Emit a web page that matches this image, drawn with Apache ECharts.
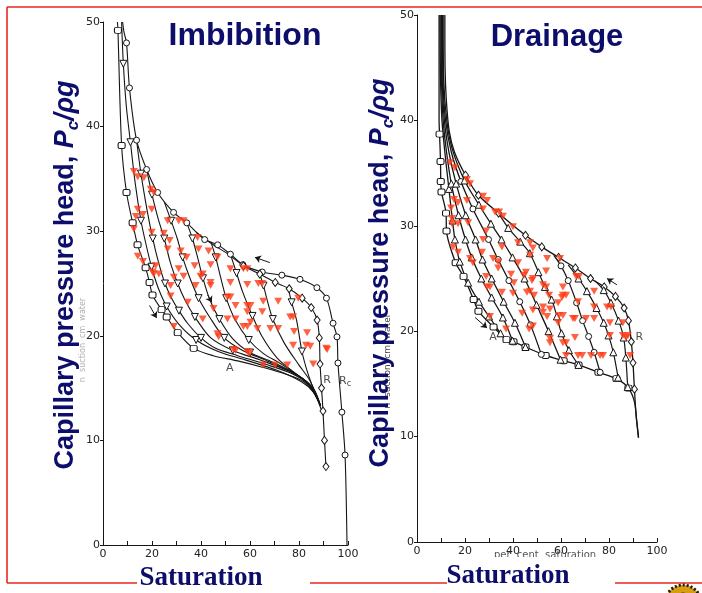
<!DOCTYPE html>
<html><head><meta charset="utf-8">
<script src="https://cdn.jsdelivr.net/npm/echarts@6/dist/echarts.min.js"></script>
<style>html,body{margin:0;padding:0;background:#fff}#c{width:702px;height:593px}</style>
</head><body><div id="c"></div>
<script>
// ---------- Imbibition (left) ----------
const imbTicksX = [0, 20, 40, 60, 80, 100];
const imbSquares = [[5.9,50],[6.1,49.2],[7.6,38.2],[9.6,33.7],[12.1,30.8],[14.1,28.7],[17.4,26.5],[19,25.1],[20.2,23.9],[23.9,22.5],[26,21.8],[30.5,20.3],[37,18.8],[45,18.1],[55,17.6],[65,17],[75,16.3],[82,15.6],[86.5,14.4],[89,13]];
const imbRc = [[8,50],[8.6,49],[9.6,48],[10.8,43.7],[13.7,38.7],[17.8,35.9],[22.3,33.7],[28.8,31.8],[34.2,30.8],[41.5,29.2],[46.8,28.7],[52,27.8],[57.1,26.8],[65,26.1],[73,25.8],[80.4,25.4],[87.3,24.6],[91.2,23.6],[93.9,21.2],[95.5,19.9],[95.9,17.4],[97.5,12.7],[98.8,8.6],[99.6,0]];
const imbR = [[38,29.9],[45,28.7],[50.5,27.9],[57.3,26.7],[64,25.9],[70.3,25.1],[76,24.5],[81.3,23.6],[85,22.7],[87.4,21.5],[88.3,19.8],[88.6,17.3],[89.2,15],[89.8,12.8],[90.4,10],[91,7.5]];
const imbScan1 = [[7.6,50],[8.3,46],[9.5,42],[11.2,38.5],[13.2,34.5],[15.5,31],[17.5,28.8],[19.8,26.6],[22.5,24.6],[26,22.8],[31,21.1],[38,19.6],[47,18.5],[58,17.7],[71,16.7],[81,15.6],[86,14.6],[88.8,13.3]];
const imbScan2 = [[13.7,38.7],[15.5,35.5],[18,32],[20.3,29.3],[22.7,27],[25.3,25],[28,23.6],[31,22.4],[34.5,21.2],[40,19.8],[46,18.8],[55,18.1],[66,17.3],[77,16.4],[84,15.3],[88.8,13.3]];
const imbScan3 = [[17.8,35.9],[20,33.5],[22.5,31.2],[25,29.3],[27.5,27],[30.5,25],[33.5,23.4],[37.5,21.8],[44,19.8],[53,18.6],[64,17.7],[76,16.6],[84,15.4],[88.8,13.3]];
const imbScan4 = [[25,32.8],[27.8,31],[30.3,29.3],[32.5,27.5],[35.5,25.5],[39,23.6],[43.5,21.8],[49.5,19.8],[57,18.6],[67,17.6],[78,16.4],[85,15.2],[88.8,13.3]];
const imbScan5 = [[34.2,30.8],[36.5,29.3],[38.6,27.5],[40.8,25.5],[43.5,23.5],[47.5,21.6],[53,19.7],[60,18.4],[69,17.5],[79,16.3],[85.5,15],[88.8,13.3]];
const imbScan6 = [[44,29],[46,27.5],[48,25.6],[50.3,23.6],[54,21.5],[59.5,19.6],[65.5,18.3],[72,17.4],[81,16],[86.3,14.8],[88.8,13.3]];
const imbScan7 = [[52,27.8],[54.5,26],[57,24.2],[61,21.9],[65,19.9],[71,17.9],[78.5,16.4],[84,15.4],[88.8,13.3]];
const imbScan8 = [[64,25.9],[65.5,24.8],[66.8,23.6],[69.3,21.6],[74,19.3],[80,17.2],[84.5,15.7],[88.8,13.3]];
const imbScan9 = [[75.5,24.6],[77,23.2],[79,21.5],[81.2,18.5],[83.5,16.5],[86.4,14.6],[88.8,13.3]];
const imbRed = [[12.6,35.7],[14.2,35.2],[16.7,35.1],[19.5,34],[20.7,33.7],[14.2,32.1],[19.9,32.1],[13.4,31.4],[16.3,31.6],[26.4,31],[30.9,31],[32.9,31],[12.6,30.2],[19.9,29.9],[24.8,29.8],[27.2,29.1],[38.6,29.4],[26.4,28.3],[31.7,28.1],[39,28.3],[43.1,28.1],[46.7,27.5],[14.2,27.6],[34.1,27.5],[16.3,27.1],[21.5,26.7],[30.9,26.4],[37.4,26.7],[43.9,26.8],[52,26.4],[57.3,26.4],[58.9,26.4],[20.7,25.9],[22.8,25.9],[28.9,25.6],[32.9,25.7],[39.8,25.7],[27.6,24.8],[37.8,24.8],[43.9,25.1],[52,25.1],[58.9,24.9],[63.4,25],[65,25],[50.8,23.7],[52,23.7],[54.1,22.9],[58.9,22.9],[60.2,22.9],[65.4,23.3],[71.5,23.3],[79.7,23.6],[50.8,21.6],[54.1,21.6],[57.3,20.9],[58.9,20.9],[60.2,21.3],[63,20.7],[68.3,20.7],[71.5,20.7],[76.4,21.8],[77.6,21.8],[78,20.4],[83.3,20.3],[54.1,18.6],[58.9,18.5],[59.8,18.3],[65.4,17.2],[70.3,17.2],[75.2,17.2],[77.6,19.1],[82.9,19.1],[84.6,19],[91.1,18.8],[85.8,17.3],[20.3,26.1],[27.6,23.8],[28.9,20.9],[34.6,23.2],[40.7,25.9],[43.9,24.8],[45.1,22.6],[40.7,21.6],[46.7,20.2],[47.2,19.9],[58.9,22.3],[65,22.3],[53.3,18.7],[91.5,18.7]];
const imbLabels = [['A',51.7,16.9],['R',91.5,15.8],['Rc',98.8,15.7]];
const imbArrows = [[[68.1,27.0],[62,27.5]],[[19,22.9],[21.9,21.7]],[[42.7,23.9],[44.4,23.2]]];

// ---------- Drainage (right) ----------
const drnUpper = [[11.6,50],[11.7,45],[12.2,42],[13.4,39],[15.6,37],[20.2,34.8],[25.6,32.9],[34,31.2],[45.2,29.1],[52,28],[59,27],[66,26],[72.3,25],[78,24.2],[82.7,23.3],[86.3,22.2],[88.1,21],[89.3,19],[90,17],[90.6,14.5],[91.3,12],[92.3,9.9]];
const drnLower = [[9.2,50],[9.2,45],[9.2,40],[9.4,38.7],[9.8,36.1],[9.9,34.2],[10.2,33.2],[12.1,31.2],[12.3,29.5],[16.1,26.5],[19.4,25.2],[23.6,23],[25.6,21.9],[31.9,20.4],[37.3,19.2],[40.2,19],[45.2,18.5],[53.6,17.7],[61.1,17.2],[67.3,16.8],[75.6,16.1],[83.1,15.5],[88.1,14.6],[90.6,13.3],[91.5,11.6],[92.3,9.9]];
const drnScan1 = [[9.6,50],[9.8,44],[10.4,40],[11.6,37],[13.3,33.5],[14.8,30.5],[15.8,28.7],[17.8,26.6],[21.3,24.6],[25.8,22.8],[30,21.4],[34.8,19.8]];
const drnScan2 = [[10,50],[10.2,44],[10.9,40],[12.3,37],[14.3,34],[17.3,31],[20.2,28.7],[22.8,27],[26.8,25],[31.1,23.2],[35.8,21.3],[39.8,19.1]];
const drnScan3 = [[10.3,50],[10.5,44],[11.4,40],[13.3,37],[16.3,34],[20.3,31],[24.4,28.7],[27.3,26.8],[31.1,25],[36.1,22.8],[40.8,20.8],[45.2,18.5]];
const drnScan4 = [[10.6,50],[10.8,44],[11.9,40],[14.3,37],[18.3,34.2],[23.3,31.6],[29.8,28.7],[33.8,26.8],[38.3,24.8],[42.8,22.8],[47.3,20.6],[51.8,17.8]];
const drnScan5 = [[10.9,50],[11.1,44],[12.4,40],[14.8,37.2],[19.8,34.3],[25.8,32],[30.8,30.2],[35.2,28.7],[39.8,27],[44.8,25],[49.8,22.5],[54.8,20],[59.8,17.3]];
const drnScan6 = [[34,31.2],[38,29.8],[43,28.5],[47,27.4],[50.6,25.6],[53.3,24.2],[56.1,23],[58.3,21.4],[60.2,19.8],[63.3,18.2],[67.3,16.8]];
const drnScan7 = [[57,27.2],[60,26.2],[63,24.8],[66.5,22.7],[69,21],[71.5,19.5],[73.8,18],[76.3,16.1]];
const drnScan8 = [[63,26.3],[67.3,25],[70.8,23.8],[74.8,22.2],[77.8,20.8],[79.8,19.6],[81.8,18],[83.8,15.6]];
const drnScan9 = [[74,24.8],[77.8,23.9],[80.8,22.7],[84,21],[86.1,19.4],[87,17.5],[87.8,14.7]];
const drnRed = [[13.8,36],[15.8,35.5],[20.8,34.4],[22.1,34],[27.5,32.8],[29.2,32.4],[15.4,32.5],[17.1,32.2],[14.2,31.7],[14.6,30.7],[14.6,30.2],[17.1,30.2],[21.3,30.3],[20.8,32.4],[27.5,31.6],[32.5,31.3],[34.2,31.3],[35.8,30.9],[40,29.9],[28.8,29.5],[15,28],[17.1,27.5],[22.1,26.9],[23.3,26.5],[27.1,27.5],[31.7,26.9],[33.8,26.6],[27.5,28.7],[35.4,28],[42.1,28.4],[47.1,28.4],[48.3,27.9],[28.8,25.2],[33.8,26],[30.4,24.2],[35.4,23.7],[40.4,24.6],[39.2,25.4],[42.1,26.5],[44.6,25.3],[47.1,23.8],[48.8,23.4],[30.4,21.4],[37.1,20.2],[46.7,20.2],[48.3,20.5],[52.5,21.8],[48.3,22],[52.5,24.4],[47.1,27.2],[54.2,26.9],[59.6,26.9],[45.4,25.6],[48.3,25],[53.8,25.7],[66.3,25.2],[67.5,25.2],[45.8,23.7],[53.8,24.2],[60.8,24.2],[55,23.4],[60.8,23.4],[62.1,23.4],[73.8,23.8],[52.5,22.3],[55.4,22.1],[58.8,22.7],[67.1,22.8],[54.2,21.4],[59.2,21.5],[60.8,21.5],[73.8,22.3],[79.2,22.3],[80.8,22.3],[65.8,21.2],[70.4,21.2],[73.8,21.2],[58.8,20.8],[80.4,20.8],[85.8,20.8],[85.8,19.6],[87.1,19.4],[87.9,19.6],[55.4,19.3],[55.4,18.9],[60.8,18.9],[62.1,18.9],[65.8,19.4],[80.4,19.6],[62.1,17.7],[67.1,17.7],[68.8,17.7],[72.5,17.7],[77.5,17.7],[88.8,17.7],[29.2,24.2],[40,23.6],[47.9,24.8],[43.8,21.7],[60.4,23.2],[65,21.2],[76.3,17.7]];
const drnLabels = [['A',31.7,19.4],['R',92.6,19.4]];
const drnArrows = [[[24.2,21.3],[29.2,20.3]],[[83.3,24.4],[79.2,25.0]]];

// ---------- build ----------
const INK = '#151515';
const NAVY = '#0d0d6b';
const RED = '#ff3a14';
function curve(pts, g, sym, keep, rot, size, lw) {
  return {
    type: 'line', xAxisIndex: g, yAxisIndex: g, smooth: 0.3, z: 3,
    showSymbol: true, symbol: sym, symbolSize: size || 6, symbolRotate: rot || 0,
    itemStyle: { color: '#fff', borderColor: INK, borderWidth: 1 },
    lineStyle: { color: INK, width: lw || 1.1 },
    emphasis: { disabled: true }, silent: true,
    data: pts.map((p, i) => ({ value: p, symbol: keep(p, i, pts.length) ? sym : 'none' }))
  };
}
const scanKeepI = (p, i) => i % 2 === 1 && p[1] > 18.3 && p[1] < 47;
const scanKeepD = (p, i) => i > 0 && p[1] < 36.5;
function reds(pts, g, arrows) {
  return {
    type: 'scatter', xAxisIndex: g, yAxisIndex: g, z: 6, silent: true,
    symbol: 'triangle', symbolRotate: 180, symbolSize: [8, 7],
    itemStyle: { color: RED },
    data: pts,
    markLine: {
      silent: true, symbol: ['none', 'arrow'], symbolSize: 6,
      label: { show: false }, lineStyle: { color: INK, width: 1, type: 'solid' },
      data: arrows.map(a => [{ coord: a[0] }, { coord: a[1] }])
    }
  };
}
function labels(lbls, g) {
  return {
    type: 'scatter', xAxisIndex: g, yAxisIndex: g, z: 7, silent: true, symbolSize: 1,
    itemStyle: { color: 'rgba(0,0,0,0)' },
    label: {
      show: true, position: 'inside', color: '#222', fontSize: 11, fontFamily: 'DejaVu Sans',
      formatter: p => p.data[2] === 'Rc' ? '{a|R}{s|c}' : p.data[2],
      rich: { a: { fontSize: 11, color: '#222' }, s: { fontSize: 8, color: '#222', verticalAlign: 'bottom', lineHeight: 14 } }
    },
    data: lbls.map(l => [l[1], l[2], l[0]])
  };
}
function xAx(g) {
  return {
    gridIndex: g, type: 'value', min: 0, max: 100, interval: 10,
    axisLine: { show: true, onZero: false, lineStyle: { color: INK, width: 1 } },
    axisTick: { show: true, inside: true, length: 4, lineStyle: { color: INK } },
    axisLabel: { color: '#222', fontSize: 11, fontFamily: 'DejaVu Sans', margin: 4,
      formatter: v => imbTicksX.indexOf(v) >= 0 ? String(v) : '' },
    splitLine: { show: false }
  };
}
function yAx(g) {
  return {
    gridIndex: g, type: 'value', min: 0, max: 50, interval: 10,
    axisLine: { show: true, onZero: false, lineStyle: { color: INK, width: 1 } },
    axisTick: { show: true, length: 3, lineStyle: { color: INK } },
    axisLabel: { color: '#222', fontSize: 11, fontFamily: 'DejaVu Sans', margin: 3 },
    splitLine: { show: false }
  };
}
const titleRich = {
  n: { fontSize: 27, fontWeight: 'bold', fontFamily: 'Liberation Sans', fill: NAVY, lineHeight: 32 },
  i: { fontSize: 27, fontWeight: 'bold', fontStyle: 'italic', fontFamily: 'Liberation Sans', fill: NAVY, lineHeight: 32 },
  s: { fontSize: 17, fontWeight: 'bold', fontStyle: 'italic', fontFamily: 'Liberation Sans', fill: NAVY, lineHeight: 18, verticalAlign: 'bottom' }
};
const yTitle = '{n|Capillary pressure head, }{i|P}{s|c}{i|/ρg}';
function redLine(x1, y1, x2, y2) {
  return { type: 'line', shape: { x1, y1, x2, y2 }, style: { stroke: '#e8281e', lineWidth: 1.6 }, silent: true, z: 10 };
}

const chart = echarts.init(document.getElementById('c'), null, { renderer: 'canvas', width: 702, height: 593 });
chart.setOption({
  animation: false,
  backgroundColor: '#fff',
  grid: [
    { left: 103, top: 22, width: 245, height: 523, outerBoundsMode: 'none' },
    { left: 417, top: 15, width: 240, height: 527, outerBoundsMode: 'none' }
  ],
  xAxis: [xAx(0), xAx(1)],
  yAxis: [yAx(0), yAx(1)],
  series: [
    curve(imbSquares, 0, 'roundRect', p => p[1] > 18.5 && p[1] < 49.5, 0, [7, 6]),
    curve(imbRc, 0, 'circle', (p, i, n) => i > 1 && i < n - 1),
    curve(imbR, 0, 'diamond', (p, i) => i > 2, 0, [6, 8]),
    curve(imbScan1, 0, 'triangle', scanKeepI, 180, 7),
    curve(imbScan2, 0, 'triangle', scanKeepI, 180, 7),
    curve(imbScan3, 0, 'triangle', scanKeepI, 180, 7),
    curve(imbScan4, 0, 'triangle', scanKeepI, 180, 7),
    curve(imbScan5, 0, 'triangle', scanKeepI, 180, 7),
    curve(imbScan6, 0, 'triangle', scanKeepI, 180, 7),
    curve(imbScan7, 0, 'triangle', scanKeepI, 180, 7),
    curve(imbScan8, 0, 'triangle', scanKeepI, 180, 7),
    curve(imbScan9, 0, 'triangle', scanKeepI, 180, 7),
    reds(imbRed, 0, imbArrows),
    labels(imbLabels, 0),
    curve(drnUpper, 1, 'diamond', p => p[1] < 36 && p[1] > 12, 0, [6, 8], 1.3),
    curve(drnLower, 1, 'roundRect', p => p[1] < 39.5 && p[1] > 14, 0, [7, 6], 1.3),
    curve(drnScan1, 1, 'triangle', scanKeepD, 0, 7, 1.3),
    curve(drnScan2, 1, 'triangle', scanKeepD, 0, 7, 1.3),
    curve(drnScan3, 1, 'triangle', scanKeepD, 0, 7, 1.3),
    curve(drnScan4, 1, 'circle', scanKeepD, 0, 6, 1.3),
    curve(drnScan5, 1, 'triangle', scanKeepD, 0, 7, 1.3),
    curve(drnScan6, 1, 'triangle', scanKeepD, 0, 7, 1.2),
    curve(drnScan7, 1, 'circle', scanKeepD, 0, 6, 1.2),
    curve(drnScan8, 1, 'triangle', scanKeepD, 0, 7, 1.2),
    curve(drnScan9, 1, 'triangle', scanKeepD, 0, 7, 1.2),
    reds(drnRed, 1, drnArrows),
    labels(drnLabels, 1)
  ],
  graphic: [
    redLine(7, 7, 702, 7),
    redLine(7, 7, 7, 583),
    redLine(7, 583, 137, 583),
    redLine(310, 583, 447, 583),
    redLine(615, 583, 702, 583),
    { type: 'text', x: 245, y: 36, silent: true, z: 20,
      style: { text: 'Imbibition', fill: NAVY, font: 'bold 32px "Liberation Sans", Arial, sans-serif', align: 'center', verticalAlign: 'middle' } },
    { type: 'text', x: 557, y: 37, silent: true, z: 20,
      style: { text: 'Drainage', fill: NAVY, font: 'bold 31px "Liberation Sans", Arial, sans-serif', align: 'center', verticalAlign: 'middle' } },
    { type: 'text', x: 83, y: 340, rotation: Math.PI / 2, silent: true, z: 15,
      style: { text: 'n  suction  cm  water', fill: '#b0b0b0', font: '8px "DejaVu Sans"', align: 'center', verticalAlign: 'middle' } },
    { type: 'text', x: 388, y: 361, rotation: Math.PI / 2, silent: true, z: 15,
      style: { text: 'n  suction  cm  water', fill: '#444', font: '9px "DejaVu Sans"', align: 'center', verticalAlign: 'middle' } },
    { type: 'text', x: 66, y: 275, rotation: Math.PI / 2, silent: true, z: 20,
      style: { text: yTitle, rich: titleRich, fill: NAVY, align: 'center', verticalAlign: 'middle' } },
    { type: 'text', x: 381, y: 273, rotation: Math.PI / 2, silent: true, z: 20,
      style: { text: yTitle, rich: titleRich, fill: NAVY, align: 'center', verticalAlign: 'middle' } },
    { type: 'text', x: 545, y: 555, silent: true, z: 15,
      style: { text: 'per  cent  saturation', fill: '#555', font: '10px "DejaVu Sans"', align: 'center', verticalAlign: 'middle' } },
    { type: 'rect', shape: { x: 470, y: 557, width: 150, height: 10 }, style: { fill: '#fff' }, silent: true, z: 16 },
    { type: 'text', x: 201, y: 578, silent: true, z: 20,
      style: { text: 'Saturation', fill: NAVY, font: 'bold 27px "Liberation Serif", "Times New Roman", serif', align: 'center', verticalAlign: 'middle' } },
    { type: 'text', x: 508, y: 576, silent: true, z: 20,
      style: { text: 'Saturation', fill: NAVY, font: 'bold 27px "Liberation Serif", "Times New Roman", serif', align: 'center', verticalAlign: 'middle' } },
    { type: 'circle', shape: { cx: 683, cy: 603, r: 18 }, style: { fill: '#d89c10', stroke: '#1a1a1a', lineWidth: 3, lineDash: [2, 2] }, silent: true, z: 20 },
    { type: 'circle', shape: { cx: 683, cy: 603, r: 10 }, style: { fill: '#f2c21a', stroke: '#3a2a00', lineWidth: 1 }, silent: true, z: 21 }
  ]
});
</script></body></html>
